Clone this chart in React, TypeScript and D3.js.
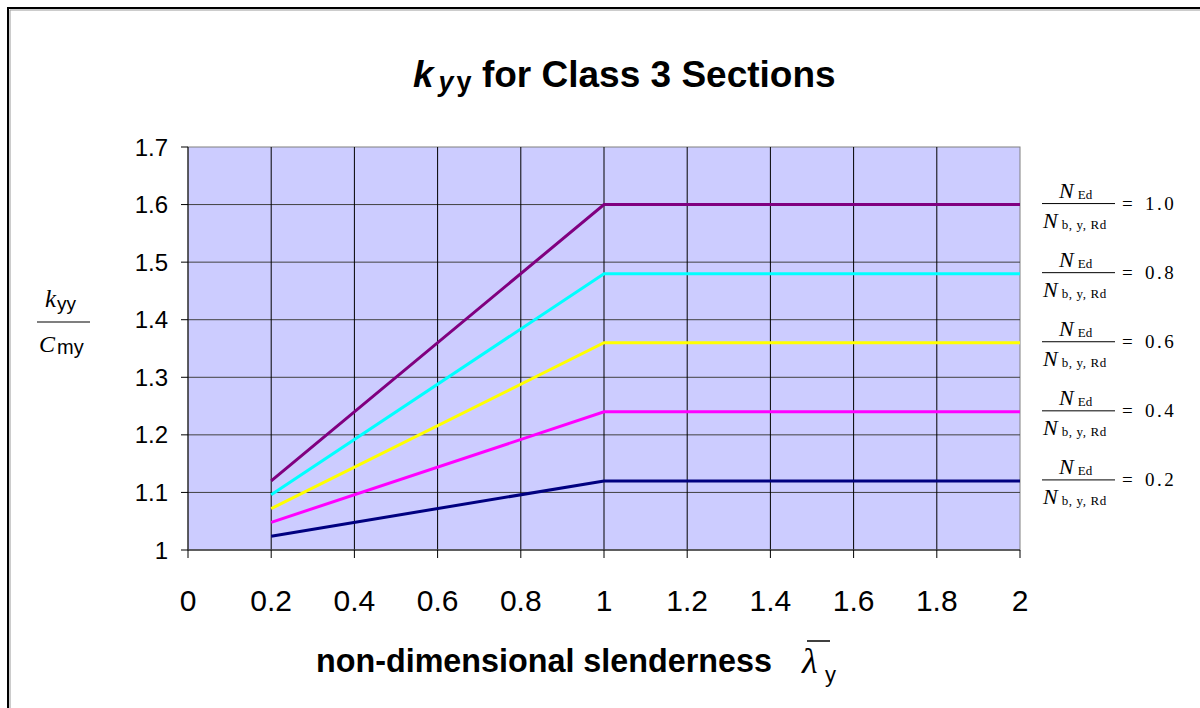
import React from "react";
import * as d3 from "d3";

const xValues = [0.2, 1.0, 2.0];
const seriesNames = ["1.0", "0.8", "0.6", "0.4", "0.2"];
const seriesColors = ["#800080", "#00FFFF", "#FFFF00", "#FF00FF", "#000080"];
const series10 = [1.12, 1.6, 1.6];
const series08 = [1.096, 1.48, 1.48];
const series06 = [1.072, 1.36, 1.36];
const series04 = [1.048, 1.24, 1.24];
const series02 = [1.024, 1.12, 1.12];
const allSeries = [series10, series08, series06, series04, series02];
const xTicks = [0, 0.2, 0.4, 0.6, 0.8, 1, 1.2, 1.4, 1.6, 1.8, 2];
const yTicks = [1, 1.1, 1.2, 1.3, 1.4, 1.5, 1.6, 1.7];

export default function App() {
  const x = d3.scaleLinear().domain([0, 2]).range([188, 1020]);
  const y = d3.scaleLinear().domain([1, 1.7]).range([550, 147]);
  const line = d3
    .line<[number, number]>()
    .x((d) => x(d[0]))
    .y((d) => y(d[1]));
  const times = "'Liberation Serif', 'DejaVu Serif', serif";
  const arial = "'Liberation Sans', Arial, sans-serif";

  return (
    <svg
      width={1200}
      height={708}
      style={{ position: "absolute", left: 0, top: 0, background: "#fff" }}
    >
      <rect x={0} y={0} width={1200} height={708} fill="#fff" />
      {/* outer border */}
      <rect x={8} y={8} width={1300} height={800} fill="none" stroke="#000" strokeWidth={2} />
      <line x1={10} x2={1200} y1={10} y2={10} stroke="#999" strokeWidth={1} />
      <line x1={10} x2={10} y1={10} y2={708} stroke="#999" strokeWidth={1} />

      {/* title */}
      <text x={413} y={87} fontFamily={arial} fontWeight="bold" fontSize={37} fill="#000">
        <tspan fontStyle="italic">k</tspan>
        <tspan fontStyle="italic" fontSize={27} dx={5} dy={4}>y</tspan>
        <tspan fontSize={27} dx={3}>y</tspan>
        <tspan dy={-4}> for Class 3 Sections</tspan>
      </text>

      {/* plot area */}
      <rect
        x={x(0)}
        y={y(1.7)}
        width={x(2) - x(0)}
        height={y(1) - y(1.7)}
        fill="#CCCCFF"
        stroke="#808080"
        strokeWidth={1}
      />
      {yTicks.slice(1, -1).map((t) => (
        <line key={"hg" + t} x1={x(0)} x2={x(2)} y1={y(t)} y2={y(t)} stroke="#404040" strokeWidth={1} />
      ))}
      {xTicks.slice(1, -1).map((t) => (
        <line key={"vg" + t} x1={x(t)} x2={x(t)} y1={y(1.7)} y2={y(1)} stroke="#000" strokeWidth={1} />
      ))}
      {/* axes */}
      <line x1={x(0)} x2={x(0)} y1={y(1.7)} y2={y(1)} stroke="#000" strokeWidth={1} />
      <line x1={x(0)} x2={x(2)} y1={y(1)} y2={y(1)} stroke="#404040" strokeWidth={1.5} />
      {yTicks.map((t) => (
        <g key={"yt" + t}>
          <line x1={x(0) - 7} x2={x(0)} y1={y(t)} y2={y(t)} stroke="#000" strokeWidth={1} />
          <text x={168} y={y(t) + 8.5} textAnchor="end" fontFamily={arial} fontSize={24} fill="#000">
            {+t.toFixed(1)}
          </text>
        </g>
      ))}
      {xTicks.map((t) => (
        <g key={"xt" + t}>
          <line x1={x(t)} x2={x(t)} y1={y(1)} y2={y(1) + 8} stroke="#000" strokeWidth={1} />
          <text x={x(t)} y={611} textAnchor="middle" fontFamily={arial} fontSize={30} fill="#000">
            {+t.toFixed(1)}
          </text>
        </g>
      ))}

      {/* series */}
      {allSeries.map((s, i) => (
        <path
          key={"s" + i}
          d={line(xValues.map((xv, j) => [xv, s[j]] as [number, number])) || ""}
          fill="none"
          stroke={seriesColors[i]}
          strokeWidth={3}
        />
      ))}

      {/* legend labels */}
      {allSeries.map((s, i) => {
        const cy = y(s[s.length - 1]) - 1;
        return (
          <g key={"lg" + i} fontFamily={times} fill="#000">
            <text x={1059} y={cy - 6} fontSize={22}>
              <tspan fontStyle="italic">N</tspan>
              <tspan fontSize={13} dx={4} dy={1}>Ed</tspan>
            </text>
            <line x1={1042} x2={1115} y1={cy} y2={cy} stroke="#000" strokeWidth={1} />
            <text x={1043} y={cy + 24} fontSize={22}>
              <tspan fontStyle="italic">N</tspan>
              <tspan fontSize={13} dx={4} dy={1} letterSpacing={0.6}>b, y, Rd</tspan>
            </text>
            <text x={1122} y={cy + 6} fontSize={19}>=</text>
            <text x={1145} y={cy + 6} fontSize={19} letterSpacing={2.5}>
              {seriesNames[i]}
            </text>
          </g>
        );
      })}

      {/* y axis label */}
      <g>
        <text x={45} y={307} fontFamily={times} fontStyle="italic" fontSize={25} fill="#000">k</text>
        <text x={57} y={310} fontFamily={arial} fontSize={19} fill="#000">yy</text>
        <line x1={37} x2={90} y1={322} y2={322} stroke="#000" strokeWidth={1.2} />
        <text x={39} y={352} fontFamily={times} fontStyle="italic" fontSize={24} fill="#000">C</text>
        <text x={57} y={354} fontFamily={arial} fontSize={20} fill="#000">my</text>
      </g>

      {/* x axis label */}
      <text x={316} y={672} fontFamily={arial} fontWeight="bold" fontSize={32.3} fill="#000">
        non-dimensional slenderness
      </text>
      <text x={802} y={673} fontFamily={times} fontStyle="italic" fontSize={36} fill="#000">λ</text>
      <line x1={807} x2={830} y1={641} y2={641} stroke="#000" strokeWidth={1.5} />
      <text x={825} y={682} fontFamily={arial} fontSize={22} fill="#000">y</text>
    </svg>
  );
}
